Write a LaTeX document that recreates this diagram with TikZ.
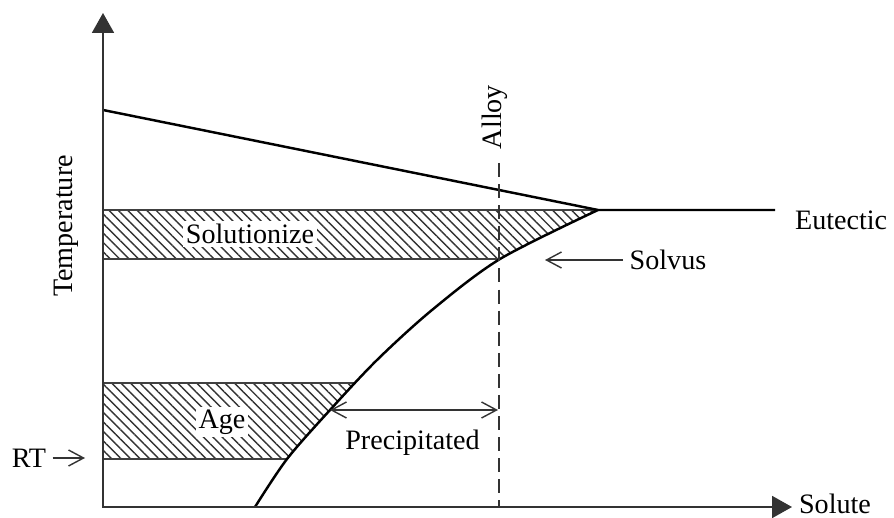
\documentclass[tikz,border=0pt]{standalone}
\usepackage{fontspec}
\setmainfont{Liberation Serif}
\usetikzlibrary{arrows.meta,patterns.meta}

\begin{document}
\begin{tikzpicture}[thick,
  lbl/.style={font=\fontsize{16}{19}\selectfont},
  bandlbl/.style={lbl, fill=white, inner sep=1.5pt},
  band/.style={draw=black!75, line width=0.8pt,
               pattern={Lines[angle=-45, distance=3.8pt, line width=0.8pt]},
               pattern color=black!80},
  ax/.style={draw=black!80, line width=1.1pt,
             {Triangle[width=0.44cm, length=0.4cm]}-{Triangle[width=0.44cm, length=0.4cm]}},
  crv/.style={line width=1.4pt},
  a/.style={-{Straight Barb[length=0.3cm, width=0.32cm]}, line width=0.8pt, black!80},
  ab/.style={{Straight Barb[length=0.3cm, width=0.32cm]}-{Straight Barb[length=0.3cm, width=0.32cm]},
             line width=0.8pt, black!80}]

  \useasboundingbox (-2.06,-0.20) rectangle (15.82,10.14);

  % hatched bands, only left of the solvus
  \begin{scope}
    \clip (-0.5,0) -- plot[smooth] coordinates {(3.04,0) (3.68,0.96) (4.54,1.94)
      (5.48,2.94) (6.58,3.94) (7.94,4.96) (9.90,5.94)} -- (9.90,6.6) -- (-0.5,6.6) -- cycle;
    \path[band] (0,4.96) rectangle (11,5.94);
    \path[band] (0,0.96) rectangle (7,2.48);
  \end{scope}

  % liquidus, eutectic and solvus
  \draw[crv] (0,7.94) -- (9.90,5.94) -- (13.44,5.94);
  \draw[crv] plot[smooth] coordinates {(3.04,0) (3.68,0.96) (4.54,1.94)
      (5.48,2.94) (6.58,3.94) (7.94,4.96) (9.90,5.94)};

  % axes and alloy line
  \draw[ax] (0,9.88) -- (0,0) -- (13.78,0);
  \draw[dash pattern=on 8pt off 4pt, line width=0.9pt, black!80] (7.92,6.88) -- (7.92,0);

  \node[lbl, rotate=90]   (temp)  at (-0.74,5.62) {Temperature};
  \node[lbl, rotate=90]   (alloy) at (7.84,7.80)  {Alloy};
  \node[lbl, anchor=west] (eut)   at (13.71,5.74) {Eutectic};
  \node[lbl]              (solv)  at (11.30,4.94) {Solvus};
  \node[lbl]              (solu)  at (14.64,0.06) {Solute};
  \node[lbl]              (rt)    at (-1.48,0.98) {RT};
  \node[bandlbl]          (sol)   at (2.94,5.46)  {Solutionize};
  \node[bandlbl]          (age)   at (2.38,1.70)  {Age};
  \node[lbl]              (prec)  at (6.19,1.28)  {Precipitated};

  \coordinate (solvtip) at (8.84,4.94);
  \coordinate (rttip)   at (-0.36,0.98);
  \coordinate (pl)      at (4.54,1.94);
  \coordinate (pr)      at (7.90,1.94);

  \draw[a]  (solv) -- (solvtip);
  \draw[a]  (rt) -- (rttip);
  \draw[ab] (pl) -- (pr);

\end{tikzpicture}
\end{document}
